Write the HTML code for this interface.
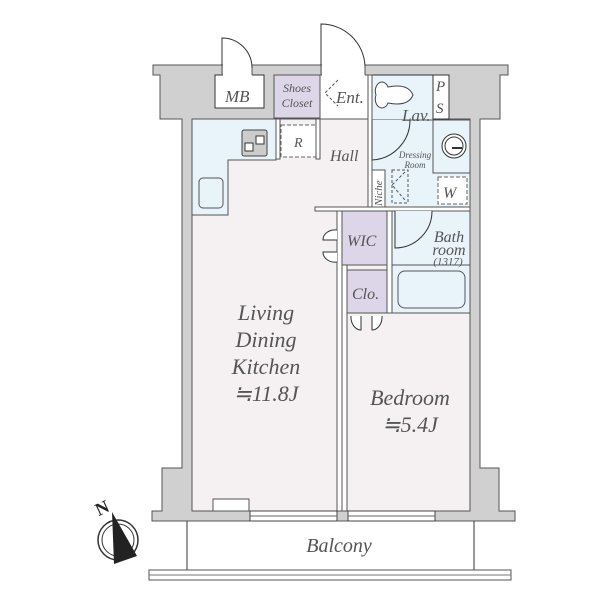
<!DOCTYPE html>
<html><head><meta charset="utf-8"><style>body{margin:0;background:#fff}svg{display:block}text{font-family:"Liberation Serif",serif;font-style:italic;fill:#555}</style></head><body>
<svg width="600" height="600" viewBox="0 0 600 600" xmlns="http://www.w3.org/2000/svg">
<g fill="#d0d0d0" stroke="#555">
<path d="M153 65 H508 V75 H500 V119 H480 V468 H499 V511 H515 V521 H152 V511 H162 V468 H182 V119 H160 V75 H153 Z"/>
</g>
<rect x="192" y="119" width="278" height="392" fill="#f5f0f1" stroke="#555"/>
<rect x="213" y="499" width="36" height="12" fill="#fff" stroke="#555"/>
<rect x="274" y="75" width="46" height="43" fill="#dcd6e8" stroke="#555"/>
<rect x="320" y="75" width="50" height="44" fill="#fff" stroke="#555"/>
<rect x="215" y="75" width="49" height="33" fill="#fff" stroke="#333"/>
<rect x="372" y="75" width="61" height="45" fill="#e9f3fa" stroke="#333"/>
<rect x="433" y="75" width="16" height="44" fill="#fff" stroke="#333"/>
<rect x="372" y="120" width="98" height="87" fill="#e9f3fa" stroke="#555"/>
<rect x="433" y="120" width="37" height="53" fill="#e9f3fa" stroke="#555"/>
<rect x="370" y="170" width="15" height="37" fill="#fff" stroke="#555"/>
<rect x="223" y="64" width="29" height="12" fill="#fff"/>
<rect x="322" y="64" width="43" height="12" fill="#fff"/>
<path d="M222 65 V75 M252 65 V75 M321 65 V75 M365 65 V75" stroke="#555"/>
<path d="M192 119 H276 V160 H228 V215 H192 Z" fill="#e9f3fa" stroke="#555"/>
<rect x="199" y="178" width="24" height="30" rx="4" fill="#e9f3fa" stroke="#555"/>
<rect x="242" y="130" width="25" height="26" rx="2" fill="#ccc" stroke="#444"/>
<rect x="245" y="143" width="8" height="8" fill="#fff" stroke="#333"/><rect x="256" y="136" width="8" height="8" fill="#fff" stroke="#333"/>
<rect x="281" y="125" width="35" height="32" fill="#fff" stroke="#666" stroke-dasharray="4,2"/>
<rect x="276" y="119" width="4" height="40" fill="#fff" stroke="#555"/>
<rect x="316" y="119" width="4" height="40" fill="#fff" stroke="#555"/>
<rect x="368" y="75" width="4" height="132" fill="#fff" stroke="#555"/>
<rect x="315" y="207" width="155" height="4" fill="#fff" stroke="#555"/>
<rect x="337" y="211" width="5" height="300" fill="#fff" stroke="#555"/>
<rect x="342" y="265" width="5" height="246" fill="#fff" stroke="#555"/>
<rect x="387" y="211" width="5" height="102" fill="#fff" stroke="#555"/>
<rect x="392" y="211" width="78" height="54" fill="#e9f3fa" stroke="#555"/>
<rect x="392" y="265" width="78" height="48" fill="#e9f3fa" stroke="#555"/>
<rect x="398" y="271" width="67" height="37" rx="7" fill="#e9f3fa" stroke="#555"/>
<rect x="347" y="313" width="123" height="198" fill="#f5f0f1" stroke="#555"/>
<rect x="342" y="211" width="45" height="54" fill="#dcd6e8" stroke="#555"/>
<rect x="347" y="270" width="40" height="43" fill="#dcd6e8" stroke="#555"/>
<path d="M222 65 V38 A30 30 0 0 1 252 68" fill="none" stroke="#333"/>
<path d="M321 65 V24 A44 44 0 0 1 365 66" fill="none" stroke="#333"/>
<path d="M372 120 V160 A40 40 0 0 0 410 120" fill="#e9f3fa" stroke="#333"/>
<path d="M395 211 V248 A37 37 0 0 0 432 211" fill="#e9f3fa" stroke="#333"/>
<path d="M337 230 A12 10 0 0 0 323 240 H337 M337 262 A12 10 0 0 1 323 252 H337" fill="#fff" stroke="#333"/>
<path d="M351 316 A10 13 0 0 0 361 330 V316 M382 316 A10 13 0 0 1 372 330 V316" fill="#fff" stroke="#333"/>
<path d="M338 80 L325 93 L338 106" fill="none" stroke="#555" stroke-dasharray="3,2"/>
<path d="M405 172 L392 185 L405 200" fill="none" stroke="#555" stroke-dasharray="3,2"/>
<rect x="392" y="170" width="16" height="33" fill="none" stroke="#555" stroke-dasharray="3,2"/>
<rect x="438" y="177" width="29" height="27" fill="#fff" stroke="#666" stroke-dasharray="4,2"/>
<path d="M376 95 a6 8 0 0 1 12 -8 q20 -4 25 8 q-5 12 -25 8 a6 8 0 0 1 -12 -8z" fill="#fff" stroke="#444"/>
<circle cx="454" cy="146" r="12" fill="#fff" stroke="#333"/><circle cx="454" cy="146" r="9" fill="none" stroke="#333"/><path d="M452 148 H462" stroke="#333" stroke-width="2"/>
<rect x="250" y="511" width="87" height="10" fill="#fff" stroke="#444"/>
<rect x="348" y="511" width="87" height="10" fill="#fff" stroke="#444"/>
<path d="M250 516 H337 M348 516 H435" stroke="#666"/>
<path d="M187 521 V570 M474 521 V570" stroke="#333"/>
<rect x="149" y="570" width="362" height="10" fill="#fff" stroke="#555"/>
<path d="M149 575 H511" stroke="#777"/>
<circle cx="118" cy="540" r="20" fill="#fff" stroke="#333" stroke-width="1.5"/><circle cx="118" cy="540" r="16" fill="none" stroke="#333"/>
<path d="M112 512 L137 556 L114 564 Z" fill="#222"/>
<text x="95" y="513" font-size="18" style="font-style:normal;font-weight:bold;fill:#222" transform="rotate(-25 104 506)">N</text>
<text x="225" y="102" font-size="17">MB</text>
<text x="297" y="92" font-size="12" text-anchor="middle">Shoes</text>
<text x="297" y="107" font-size="12" text-anchor="middle">Closet</text>
<text x="336" y="103" font-size="17">Ent.</text>
<text x="402" y="121" font-size="17">Lav.</text>
<text x="436" y="91" font-size="15">P</text><text x="436" y="113" font-size="15">S</text>
<text x="294" y="147" font-size="14">R</text>
<text x="330" y="161" font-size="16">Hall</text>
<text x="415" y="158" font-size="9" text-anchor="middle">Dressing</text>
<text x="415" y="168" font-size="9" text-anchor="middle">Room</text>
<text x="382" y="206" font-size="11" transform="rotate(-90 382 206)">Niche</text>
<text x="443" y="198" font-size="16">W</text>
<text x="347" y="246" font-size="16">WIC</text>
<text x="352" y="299" font-size="16">Clo.</text>
<text x="449" y="242" font-size="16" text-anchor="middle">Bath</text>
<text x="449" y="255" font-size="16" text-anchor="middle">room</text>
<text x="448" y="265" font-size="11" text-anchor="middle">(1317)</text>
<g font-size="22" text-anchor="middle">
<text x="266" y="320">Living</text><text x="266" y="347">Dining</text><text x="266" y="374">Kitchen</text><text x="266" y="401">≒11.8J</text>
<text x="410" y="405">Bedroom</text><text x="410" y="432">≒5.4J</text>
</g>
<text x="339" y="552" font-size="20" text-anchor="middle">Balcony</text>
</svg>
</body></html>
